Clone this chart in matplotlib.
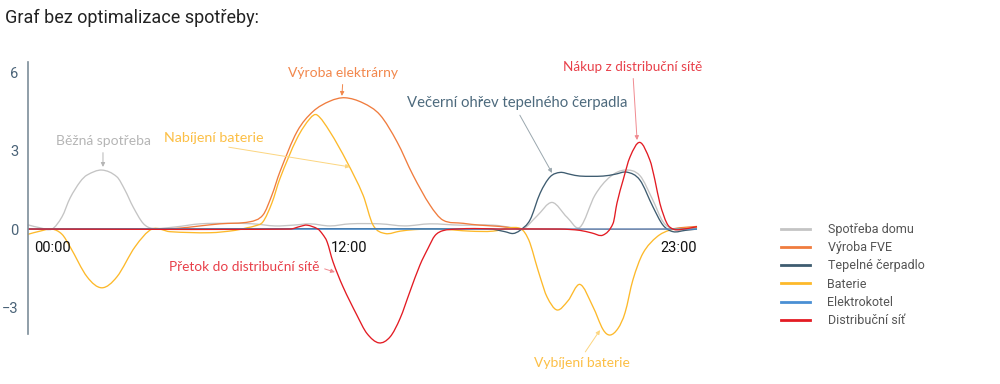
import numpy as np
import matplotlib
matplotlib.use('Agg')
import matplotlib.pyplot as plt
from matplotlib.path import Path
from matplotlib.patches import PathPatch
from matplotlib.lines import Line2D

# ---- data (hours, kW) ----
spotreba_x = [0, 0.43, 0.86, 1.22, 1.51, 1.87, 2.12, 2.65, 3.19, 3.48, 3.77, 4.13, 4.45, 5.27, 6.17,
              7.25, 8.07, 8.86, 9.51, 10.12, 10.83, 11.55, 12.63, 13.52, 14.42, 15.50, 16.68, 17.40,
              17.76, 18.26, 18.80, 19.34, 19.80, 20.34, 20.88, 21.42, 21.95, 22.42, 22.78, 23.14, 23.58, 24.0]
spotreba_y = [0.16, 0.05, 0.0, 0.47, 1.19, 1.81, 2.07, 2.26, 2.0, 1.49, 0.85, 0.22, 0.03, 0.08, 0.2,
              0.22, 0.2, 0.12, 0.15, 0.2, 0.12, 0.2, 0.2, 0.12, 0.2, 0.15, 0.15, 0.05,
              0.0, 0.5, 1.02, 0.45, 0.07, 1.3, 2.0, 2.26, 2.05, 1.1, 0.28, 0.0, -0.02, 0.05]

fve_x = [0, 0.86, 4.45, 5.27, 6.17, 6.89, 7.96, 8.43, 8.75, 9.04, 9.65, 10.22, 10.83, 11.37, 12.02,
         12.63, 13.24, 13.81, 14.42, 14.89, 15.61, 16.22, 16.93, 17.40, 17.76, 23.03, 23.39, 24.0]
fve_y = [0, 0, 0, 0.02, 0.12, 0.2, 0.28, 0.54, 1.3, 2.2, 3.73, 4.5, 4.9, 5.03, 4.83,
         4.37, 3.34, 2.07, 0.92, 0.34, 0.22, 0.15, 0.1, 0.04, 0.0, 0.0, 0.05, 0.1]

cerpadlo_x = [0, 16.57, 17.11, 17.40, 17.65, 18.01, 18.37, 18.73, 19.09, 19.44, 19.80, 20.63, 21.06,
              21.49, 21.95, 22.42, 22.78, 23.14, 23.58, 24.0]
cerpadlo_y = [0, 0.0, -0.1, -0.17, -0.05, 0.35, 1.37, 2.0, 2.17, 2.1, 2.03, 2.03, 2.1,
              2.18, 1.88, 0.85, 0.15, -0.1, -0.05, 0.0]

baterie_x = [0, 0.43, 0.86, 1.22, 1.51, 2.12, 2.65, 3.19, 3.84, 4.45, 5.09, 6.53, 7.43, 7.86, 8.14,
             8.43, 8.75, 9.04, 9.65, 10.12, 10.37, 10.83, 11.44, 12.02, 12.38, 12.81, 13.35, 13.88,
             14.78, 15.86, 16.68, 17.29, 17.65, 17.83, 18.01, 18.19, 18.37, 18.62, 18.98, 19.37,
             19.80, 20.27, 20.63, 20.88, 21.17, 21.42, 21.70, 22.06, 22.56, 23.03, 23.58, 24.0]
baterie_y = [-0.2, -0.08, 0.0, -0.2, -0.68, -1.83, -2.25, -1.83, -0.68, 0.0, -0.1, -0.14, -0.05, 0.05, 0.12,
             0.28, 1.0, 1.94, 3.47, 4.24, 4.37, 3.73, 2.58, 1.3, 0.15, -0.17, -0.08, -0.02,
             0.0, -0.08, -0.08, 0.05, 0.03, -0.15, -0.54, -1.19, -1.83, -2.6, -3.1, -2.75,
             -2.12, -2.98, -3.85, -4.06, -3.8, -3.2, -1.95, -0.93, -0.3, -0.04, 0.03, 0.05]

kotel_x = [0, 24.0]
kotel_y = [0, 0]

sit_x = [0, 9.40, 9.76, 10.01, 10.40, 10.57, 10.73, 10.94, 11.30, 11.80, 12.16, 12.59, 12.99, 13.35,
         13.70, 14.06, 14.35, 14.60, 14.89, 15.39, 16.04, 16.93, 19.09, 19.80, 20.23, 20.63, 20.99,
         21.13, 21.35, 21.60, 21.95, 22.31, 22.49, 22.67, 22.92, 23.14, 23.39, 24.0]
sit_y = [0, 0, 0.1, 0.15, 0.0, -0.2, -0.49, -1.25, -2.21, -3.3, -4.0, -4.36, -4.13, -3.42,
         -2.4, -1.38, -0.74, -0.25, -0.06, 0.0, 0.02, 0.0, 0.0, -0.05, -0.15, -0.23, 0.22,
         1.0, 1.88, 2.77, 3.32, 2.64, 1.88, 0.98, 0.22, 0.0, -0.02, 0.09]

series = [
    ('Spotřeba domu',    spotreba_x, spotreba_y, '#c4c4c4'),
    ('Výroba FVE',       fve_x,      fve_y,      '#f07c3e'),
    ('Tepelné čerpadlo', cerpadlo_x, cerpadlo_y, '#3e5c70'),
    ('Baterie',          baterie_x,  baterie_y,  '#fdb92a'),
    ('Elektrokotel',     kotel_x,    kotel_y,    '#4a8fd4'),
    ('Distribuční síť',  sit_x,      sit_y,      '#e31b23'),
]
draw_order = [0, 1, 3, 2, 4, 5]

time_labels = ['00:00', '12:00', '23:00']
time_pos = [0.86, 11.5, 23.35]
y_ticks = [6, 3, 0, -3]

# (text, text xy, arrow tip xy, colour, arrow colour, relpos, size)
notes = [
    ('Běžná spotřeba', (2.69, 3.37), (2.69, 2.38), '#b5b5b5', '#b5b5b5', (0.5, 0), 10),
    ('Výroba elektrárny', (11.30, 5.98), (11.26, 5.10), '#f2874c', '#f2874c', (0.5, 0), 10),
    ('Nabíjení baterie', (6.67, 3.49), (11.55, 2.38), '#fcbf45', '#fcd57f', (0.45, 0), 10.3),
    ('Večerní ohřev tepelného čerpadla', (17.54, 4.83), (18.80, 2.15), '#4d6a7d', '#9aa7ae', (0.5, 0), 10.7),
    ('Nákup z distribuční sítě', (21.70, 6.21), (21.85, 3.41), '#e8404a', '#f08a90', (0.5, 0), 9.7),
    ('Přetok do distribuční sítě', (7.75, -1.46), (11.01, -1.65), '#e8404a', '#f08a90', (1, 0.5), 9.8),
    ('Vybíjení baterie', (19.87, -5.13), (20.52, -3.87), '#fcbf45', '#fcd57f', (0.5, 1), 10),
]


def smooth_path(xs, ys):
    # cubic Hermite through the read points, expressed as Bezier segments
    xs, ys = np.asarray(xs, float), np.asarray(ys, float)
    n = len(xs)
    m = np.zeros(n)
    if n > 2:
        m[1:-1] = (ys[2:] - ys[:-2]) / (xs[2:] - xs[:-2])
    m[0] = (ys[1] - ys[0]) / (xs[1] - xs[0])
    m[-1] = (ys[-1] - ys[-2]) / (xs[-1] - xs[-2])
    verts, codes = [(xs[0], ys[0])], [Path.MOVETO]
    for i in range(n - 1):
        dx = xs[i + 1] - xs[i]
        verts += [(xs[i] + dx / 3, ys[i] + m[i] * dx / 3),
                  (xs[i + 1] - dx / 3, ys[i + 1] - m[i + 1] * dx / 3),
                  (xs[i + 1], ys[i + 1])]
        codes += [Path.CURVE4] * 3
    return Path(verts, codes)


fig = plt.figure(figsize=(10, 3.84), dpi=100)
ax = fig.add_axes([0.028, 1 - 334 / 384, 0.669, (334 - 62) / 384])
ax.set_xlim(0, 24)
ax.set_ylim(-4.02, 6.4)

for i in draw_order:
    name, xs, ys, col = series[i]
    pp = PathPatch(smooth_path(xs, ys), fill=False, edgecolor=col, lw=0.95,
                   transform=ax.transData, joinstyle='round')
    pp.set_clip_on(False)
    ax.add_patch(pp)

for s in ['top', 'right', 'bottom']:
    ax.spines[s].set_visible(False)
ax.spines['left'].set_color('#7d8d99')
ax.spines['left'].set_linewidth(1.2)
ax.set_xticks([])
ax.set_yticks(y_ticks)
ax.tick_params(axis='y', length=0, pad=7, labelcolor='#4a6378', labelsize=10.5)
for lab in ax.get_yticklabels():
    lab.set_fontfamily('Roboto')

for t, p in zip(time_labels, time_pos):
    ax.text(p, -0.73, t, ha='center', va='center', fontsize=10.5, family='Roboto', color='#111111')

for txt, xyt, xy, col, acol, rp, fs in notes:
    ax.annotate(txt, xy=xy, xytext=xyt, ha='center', va='center', fontsize=fs,
                family='Lato', color=col, annotation_clip=False,
                arrowprops=dict(arrowstyle='-|>', color=acol, lw=0.7, mutation_scale=6,
                                shrinkA=2, shrinkB=0, relpos=rp))

fig.text(0.005, 1 - 18 / 384, 'Graf bez optimalizace spotřeby:', ha='left', va='center',
         fontsize=13, family='Roboto', color='#222222')

handles = [Line2D([0], [0], color=c, lw=2) for _, _, _, c in series]
fig.legend(handles, [s[0] for s in series], loc='center left',
           bbox_to_anchor=(0.770, 1 - 275 / 384), frameon=False, handlelength=2.3,
           handletextpad=1.4, labelspacing=0.42, prop={'family': 'Roboto', 'size': 9},
           labelcolor='#555555')

fig.savefig('out.png', dpi=100, facecolor='white')
